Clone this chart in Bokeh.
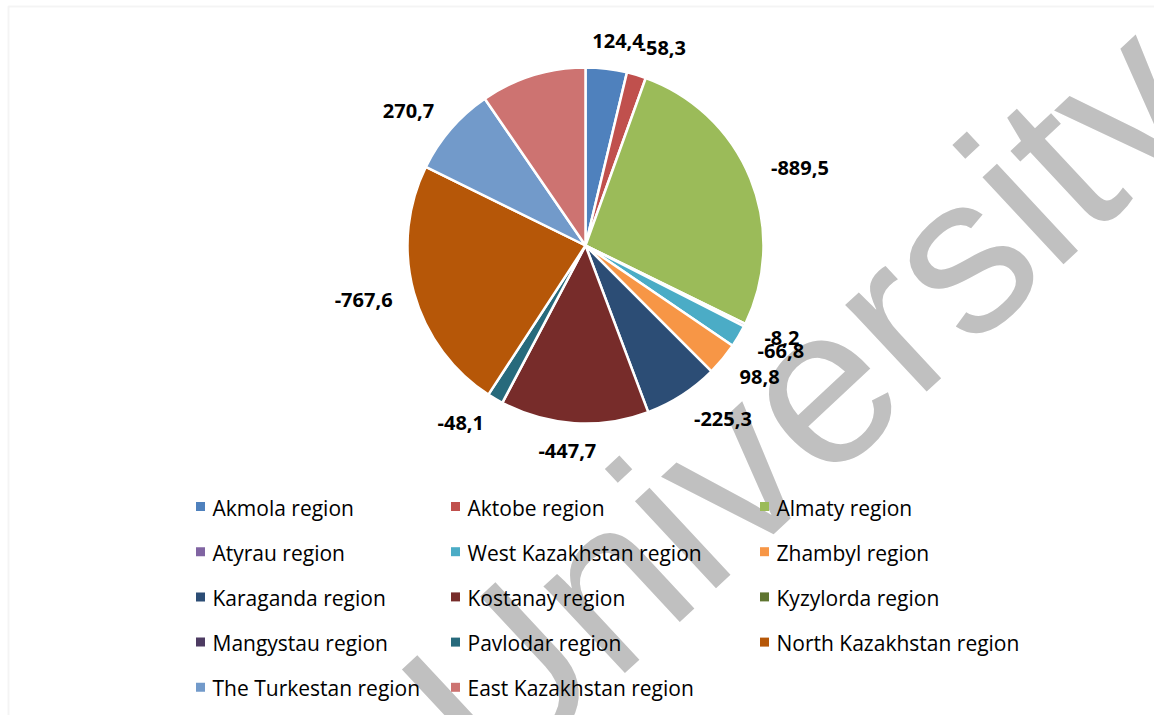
import math
from bokeh.plotting import figure
from bokeh.models import Range1d, BoxAnnotation, ColumnDataSource
from bokeh.core.properties import value
from bokeh.embed import file_html
from bokeh.resources import INLINE

# ---------------- data ----------------
regions = ["Akmola region", "Aktobe region", "Almaty region", "Atyrau region",
           "West Kazakhstan region", "Zhambyl region", "Karaganda region",
           "Kostanay region", "Kyzylorda region", "Mangystau region",
           "Pavlodar region", "North Kazakhstan region", "The Turkestan region",
           "East Kazakhstan region"]
values = [124.4, -58.3, -889.5, -8.2, -66.8, 98.8, -225.3, -447.7,
          0.0, 0.0, -48.1, -767.6, 270.7, 318.0]
labelled = [True, True, True, True, True, True, True, True,
            False, False, True, True, True, False]
colors = ["#4F81BD", "#C0504D", "#9BBB59", "#8064A2", "#4BACC6", "#F79646",
          "#2C4D75", "#772C2A", "#5F7530", "#4D3B62", "#276A7C", "#B65708",
          "#729ACA", "#CD7371"]
watermark = "University"

# ---------------- layout ----------------
W, H = 1154, 715
CX, CY = 585, H - 245
R = 178
LABEL_GAP = 22
LABEL_FONT_PX = 20

def fmt(v):
    return f"{v:.1f}".replace(".", ",")

def text_width(s, px):
    w = 0.0
    for ch in s:
        if ch.isdigit():
            w += 0.572
        elif ch == "-":
            w += 0.322
        elif ch == ",":
            w += 0.29
        else:
            w += 0.55
    return w * px

p = figure(width=W, height=H, x_range=Range1d(0, W), y_range=Range1d(0, H),
           min_border=0, toolbar_location=None, output_backend="svg",
           x_axis_location=None, y_axis_location=None)
p.grid.visible = False
p.outline_line_color = None
p.background_fill_color = "white"
p.border_fill_color = "white"

# chart border (light grey frame)
p.add_layout(BoxAnnotation(left=8, right=W + 200, top=H - 6, bottom=-200,
                           fill_alpha=0, line_color="#d9d9d9", line_width=2))

# watermark
p.text(x=[441], y=[H - 737], text=[watermark], angle=math.radians(43),
       text_font=value("Liberation Sans"), text_font_size="225px",
       text_color="#c0c0c0", text_align="left", text_baseline="alphabetic")

# ---------------- pie ----------------
total = sum(abs(v) for v in values)
starts, ends, cols = [], [], []
lab_x, lab_y, lab_t = [], [], []
cum = 0.0
for name, v, c, show in zip(regions, values, colors, labelled):
    frac = abs(v) / total
    a0 = cum * 360.0
    a1 = (cum + frac) * 360.0
    cum += frac
    if frac > 0:
        # clockwise from 12 o'clock -> math angles
        starts.append(math.radians(90 - a1))
        ends.append(math.radians(90 - a0))
        cols.append(c)
    if show:
        am = math.radians((a0 + a1) / 2)
        ux, uy = math.sin(am), math.cos(am)
        t = fmt(v)
        w = text_width(t, LABEL_FONT_PX)
        kx = max(-1.0, min(1.0, 3.0 * ux))
        px = CX + (R + LABEL_GAP) * ux + (w / 2) * kx
        py = CY + (R + LABEL_GAP) * uy + 6 * uy
        lab_x.append(px)
        lab_y.append(py)
        lab_t.append(t)

pie_src = ColumnDataSource(dict(start=starts, end=ends, color=cols))
p.wedge(x=CX, y=CY, radius=R, start_angle="start", end_angle="end",
        direction="anticlock", fill_color="color", line_color="white",
        line_width=2.5, source=pie_src)

p.text(x=lab_x, y=lab_y, text=lab_t, text_font=value("Open Sans"),
       text_font_style="bold", text_font_size=f"{LABEL_FONT_PX}px",
       text_color="black", text_align="center", text_baseline="middle")

# ---------------- legend (3 columns) ----------------
LEG_COL_X = [200, 455, 764]
LEG_Y0, LEG_DY = H - 506, 45.2
mx, my, tx, ty = [], [], [], []
for i, name in enumerate(regions):
    col, row = i % 3, i // 3
    x = LEG_COL_X[col]
    y = LEG_Y0 - row * LEG_DY
    mx.append(x)
    my.append(y)
    tx.append(x + 12)
    ty.append(y - 1)

p.scatter(x=mx, y=my, marker="square", size=9, fill_color=colors,
          line_color=None)
p.text(x=tx, y=ty, text=regions, text_font=value("Open Sans"),
       text_font_size="21px", text_color="black", text_align="left",
       text_baseline="middle")

open("out.html", "w").write(file_html(p, INLINE))
